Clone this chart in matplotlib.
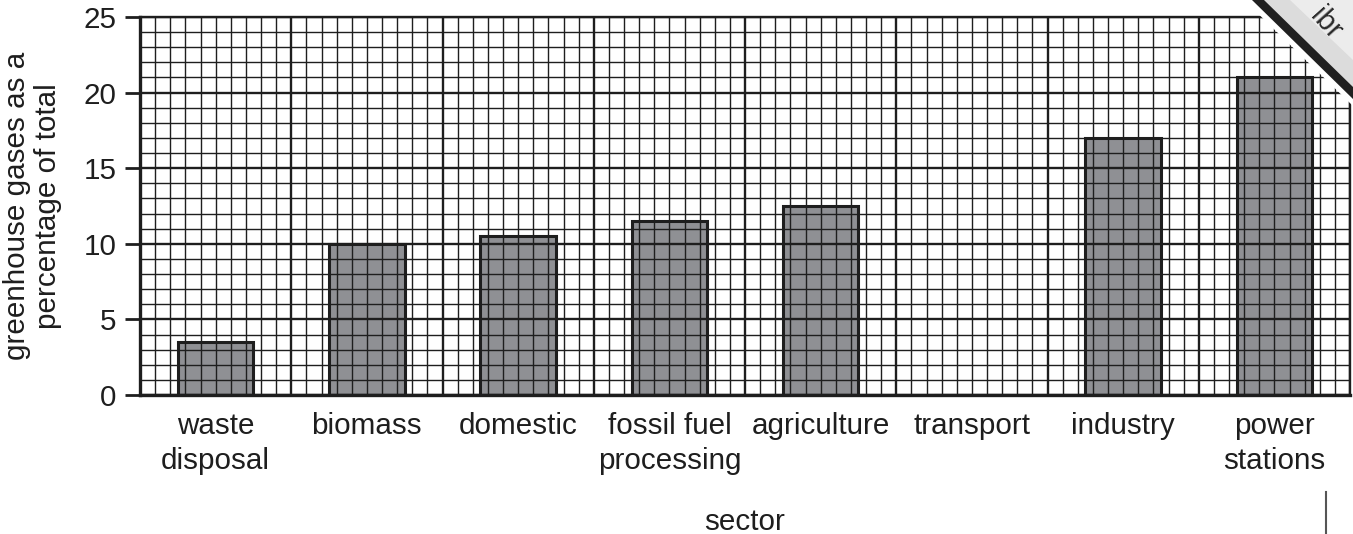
import matplotlib.pyplot as plt
from matplotlib.patches import Polygon
from matplotlib.lines import Line2D
import numpy as np

plt.rcParams['font.family'] = ['Liberation Sans', 'DejaVu Sans']

# Data
sectors = ['waste\ndisposal', 'biomass', 'domestic', 'fossil fuel\nprocessing',
           'agriculture', 'transport', 'industry', 'power\nstations']
percent = [3.5, 10, 10.5, 11.5, 12.5, 0, 17, 21]
y_ticks = [0, 5, 10, 15, 20, 25]

W, H = 1353, 534
dark = '#1e1e1e'
bar_color = '#8f9094'
fs = 21.3

fig = plt.figure(figsize=(W / 100, H / 100), dpi=100)
ax = fig.add_axes([140 / W, 1 - 395 / H, 1210 / W, 378 / H])

x = np.arange(len(sectors)) + 0.5
ax.bar(x, percent, width=0.5, color=bar_color, edgecolor=dark, linewidth=2.2, zorder=1)

ax.set_xlim(0, len(sectors))
ax.set_ylim(0, 25)

# graph-paper grid: minor every 0.1 category / 1 unit, major every category / 5 units
ax.set_xticks(np.arange(0, len(sectors) + 1, 1))
ax.set_xticks(np.arange(0, len(sectors) + 0.01, 0.1), minor=True)
ax.set_yticks(y_ticks)
ax.set_yticks(np.arange(0, 26, 1), minor=True)
ax.grid(which='minor', color=dark, linewidth=1.0, zorder=2)
ax.grid(which='major', color=dark, linewidth=1.7, zorder=2)
ax.set_axisbelow(False)

ax.set_xticklabels([])
ax.tick_params(axis='x', which='both', length=0)
ax.tick_params(axis='y', which='minor', length=0)
ax.tick_params(axis='y', which='major', length=11, width=2, color=dark,
               labelsize=fs, labelcolor=dark, pad=6)

# category labels under each column
for xi, name in zip(x, sectors):
    ax.text(xi, -1.15, name, ha='center', va='top', fontsize=fs, color=dark,
            linespacing=1.3)

for s in ['left', 'bottom']:
    ax.spines[s].set_linewidth(2.4)
    ax.spines[s].set_color(dark)
for s in ['top', 'right']:
    ax.spines[s].set_linewidth(1.7)
    ax.spines[s].set_color(dark)

ax.set_xlabel('sector', fontsize=fs, color=dark)
ax.xaxis.set_label_coords(0.5, -0.3)
ax.set_ylabel('greenhouse gases as a\npercentage of total', fontsize=fs,
              color=dark, linespacing=1.12)
ax.yaxis.set_label_coords(-0.0645, 0.5)

# small mark at bottom right
fig.add_artist(Line2D([1326 / W, 1326 / W], [1 - 492 / H, 1 - 533 / H],
                      color='#555555', linewidth=1.5, transform=fig.transFigure))

# corner stamp
def fp(pts):
    return [(px / W, 1 - py / H) for px, py in pts]

fig.add_artist(Polygon(fp([(1244, 0), (1353, 0), (1353, 106)]), closed=True,
                       facecolor='white', edgecolor='none', transform=fig.transFigure))
fig.add_artist(Polygon(fp([(1252, 0), (1353, 0), (1353, 99)]), closed=True,
                       facecolor='#202020', edgecolor='none', transform=fig.transFigure))
fig.add_artist(Polygon(fp([(1264, 0), (1353, 0), (1353, 87)]), closed=True,
                       facecolor='#dcdcdc', edgecolor='none', transform=fig.transFigure))
fig.add_artist(Polygon(fp([(1290, 0), (1353, 0), (1353, 60)]), closed=True,
                       facecolor='#ececec', edgecolor='none', transform=fig.transFigure))
fig.text(1326 / W, 1 - 24 / H, 'ibr', fontsize=21, color='#2a2a2a', rotation=-48,
         ha='center', va='center')

fig.savefig('out.png', dpi=100)
